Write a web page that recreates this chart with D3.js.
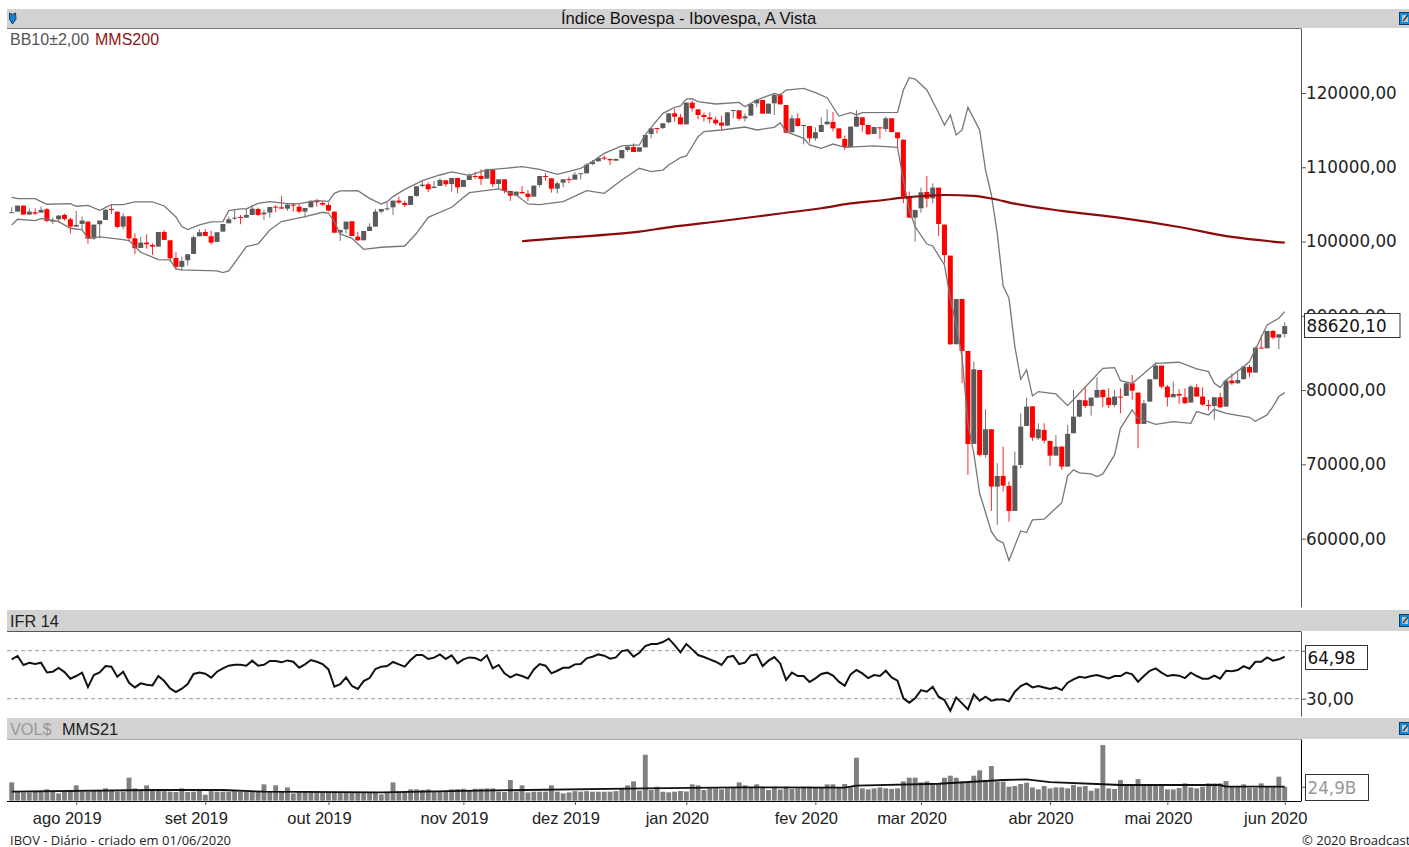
<!DOCTYPE html>
<html>
<head>
<meta charset="utf-8">
<script src="https://cdn.jsdelivr.net/npm/d3@7"></script>
<style>
  body { margin: 0; background: #fff; }
  text { font-family: "Liberation Sans", Arial, sans-serif; }
  .tick-label text, .box-label { font-family: "DejaVu Sans", sans-serif; font-size: 16.8px; }
  .footer { font-family: "Open Sans", sans-serif; font-size: 13px; }
</style>
</head>
<body>
<div id="chart"></div>
<script>
const opens = [
  103920,104030,104840,103630,103940,103900,104350,102690,103000,103580,
  103000,102010,102370,102690,100400,102330,102910,104390,104030,102010,
  103400,100440,99140,99860,99540,99320,101290,100170,97790,96580,
  97480,98330,100710,101290,100710,99950,101340,102460,103090,103310,
  103220,103580,104390,103670,103900,104700,104610,104430,104970,104700,
  104030,104610,105510,105200,104930,104030,101200,101650,102730,100660,
  100170,101420,102010,104030,104390,104610,105510,105190,104920,106140,
  107480,107710,107210,107480,108250,107750,108560,107350,108290,108830,
  108830,108470,109640,107750,108380,106810,106180,106670,106450,106050,
  107620,108830,108510,107120,107930,108420,108330,109140,109190,110440,
  110800,111300,111120,110890,111210,112330,112730,112100,112690,114480,
  115290,115290,116050,117260,116730,115780,118700,117800,117040,116720,
  116410,116010,115600,117580,117670,116590,116950,118610,119060,117220,
  118610,119730,118380,114710,116590,115560,115560,113900,114750,115780,
  116100,115240,113810,112730,115470,116730,115690,114480,115380,115150,
  116590,114710,113720,106050,103220,104480,106670,105820,107260,102280,
  98100,86170,92270,85270,72750,82710,71270,74730,67010,68440,
  67100,63730,69930,75180,77820,73520,74640,73160,71180,72400,
  69700,74190,76430,78630,77870,78990,80020,78990,78000,79130,
  79220,80920,79660,75450,78450,81460,83300,80470,79040,79480,
  79040,78320,80380,79130,78000,77870,79040,77780,81280,80920,
  81460,83120,82360,85720,85630,87960,87070,87560
];
const highs = [
  104610,104840,104840,104480,104480,104700,104480,103220,103580,103760,
  103220,104120,103360,102690,102280,102820,104300,105020,104030,103810,
  103400,101110,100670,100980,99770,101290,101560,100170,98560,97970,
  98290,100800,101650,101650,101470,101250,102370,103360,104390,103580,
  104390,104930,104570,104260,104660,104930,106140,105150,105060,105060,
  104520,105600,105740,105470,105240,104030,101560,102680,102730,101330,
  101420,102460,104390,104390,105240,105510,106050,105510,106140,107440,
  108290,107980,108160,108510,108250,108560,108560,108290,109190,109410,
  109730,109810,109640,108380,108380,106810,106720,107480,106940,107530,
  108830,109190,108510,108070,108380,108740,109320,109190,110530,110980,
  111430,111610,111120,111210,112330,113000,113220,112690,114350,115240,
  115290,115920,117260,117850,117170,118700,118970,117800,117350,117400,
  116810,116950,117400,117710,117670,117260,118520,119150,119060,118560,
  119950,119950,118380,117040,117260,115690,115560,115380,116730,117800,
  117440,115240,114260,115470,117710,116730,115690,115420,115380,116810,
  116590,114710,113720,106720,104250,107260,108830,107840,107260,102280,
  98100,92270,92270,85270,83840,82710,77420,74730,70150,72390,
  67680,71720,76880,78990,77820,75530,75540,73160,73960,72400,
  75310,80020,78680,80560,78990,81730,80110,80250,80020,80250,
  81150,82040,79660,78680,81460,83750,83300,80700,81150,80160,
  80250,80700,80790,80380,78680,79040,79660,81460,82270,82490,
  83250,83390,85860,87430,87960,88100,87520,89130
];
const lows = [
  103920,104030,103630,103630,103580,103900,102600,102330,102600,102820,
  101070,102010,101560,99720,100220,100440,102910,103720,101790,101650,
  99990,98330,99140,99050,98200,99320,100220,97300,96180,96040,
  96760,98330,100710,100760,99590,99950,101340,102460,102910,102330,
  103220,103580,103450,102910,103220,103940,104430,104120,104030,103810,
  103220,104610,104700,104790,104030,101110,100080,101110,100750,100080,
  100170,101420,102010,103800,104160,103580,105060,104610,104920,106050,
  107300,106670,107170,107480,107390,106720,106490,107350,108290,108420,
  107620,108470,107300,107030,106490,105460,106180,106490,105460,106050,
  107300,108160,106580,106490,107300,107840,108330,108380,109190,110310,
  110800,110980,110310,110850,111210,112100,112060,112100,112690,113900,
  114570,115150,115920,116140,115780,115780,117490,116460,116140,115920,
  115650,115020,115600,116590,116280,116140,116950,118070,117220,117220,
  117040,118470,114570,114710,115470,113090,113310,113580,114750,115780,
  114840,113810,112330,112730,115470,114800,114350,114480,113810,114800,
  114660,112690,105150,103220,99990,103890,104610,105150,100750,97070,
  86080,86170,80920,68580,72750,71050,70910,63730,61850,66340,
  62300,63730,69480,75180,73160,73290,72840,69790,71180,69260,
  69700,74190,76340,77560,76570,78990,77690,77560,77690,76880,
  79220,78680,72170,75450,78450,81460,80250,77780,79040,78140,
  78140,78320,79130,77870,77240,75990,77560,77780,80700,80830,
  81460,81730,82360,85630,85630,86840,85500,87070
];
const closes = [
  103960,104840,103630,104030,103760,104260,102770,102910,103490,103040,
  102010,102240,102820,100400,102280,102820,104300,104260,101970,103400,
  100440,99100,99860,99630,99320,101290,100220,97750,96580,97390,
  98290,100580,101250,100760,99860,101250,102370,103000,103220,103220,
  103580,104430,103580,103900,104660,104570,104430,104970,104840,104030,
  104520,105470,105290,104970,104170,101200,101560,102680,100750,100170,
  101420,102010,104030,104390,104470,105510,105240,104920,106140,107440,
  107660,107030,107390,108290,107710,108560,107300,108290,108920,108690,
  108420,109730,107710,108380,106810,106180,106720,106490,106000,107530,
  108830,108690,107120,107840,108380,108330,109010,109190,110350,110760,
  111250,111160,110940,111120,112330,112780,112060,112690,114350,115240,
  115200,115920,117260,116810,115780,118700,117940,117040,116770,116460,
  115920,115600,117400,117710,116540,116860,118520,119060,117220,118560,
  119730,118470,114660,116590,115560,115690,113900,114710,115690,116140,
  115240,113900,112730,115470,116810,115690,114440,115420,115240,116590,
  114750,113900,106050,103220,104250,106630,105780,107260,102370,98190,
  86170,92270,85270,72750,82800,71270,74730,67010,68440,67140,
  63730,69840,75090,77780,73610,74730,73200,71180,72400,69700,
  74100,76430,78680,77870,78990,80020,79040,78000,79130,79040,
  80920,79930,75450,78230,81460,83300,80470,79040,79480,79260,
  78230,80470,79130,78050,77870,79040,77690,81280,80920,81370,
  83160,82360,85720,85630,87960,87070,87520,88620
];

// bollinger bands, read at the corners of each line: candle number, then value
const upperIdx = [0,1,4,5,6,10,11,13,15,17,19,21,24,26,28,29,30,32,34,36,37,39,40,42,44,47,49,52,54,55,56,59,61,63,64,65,67,70,73,75,78,81,87,90,93,97,99,101,104,107,108,109,111,113,114,115,116,117,120,124,125,127,130,131,132,135,137,139,141,143,144,145,151,152,153,154,156,158,159,160,161,162,163,165,166,167,168,169,170,171,172,173,174,175,178,180,182,186,188,189,191,192,195,199,202,204,205,206,207,210,211,214,216,217];
const upperVals = [105960,105780,105780,105380,105020,105110,104750,104880,104210,104970,104970,105330,105330,104790,103310,102010,101610,102240,102640,102690,104170,104390,104390,105150,105380,105110,105110,105510,105420,106490,106810,106850,105820,105060,105370,106050,107030,108200,108960,109370,108920,109640,110080,109730,109050,109860,110760,111880,112870,113000,114350,115380,117260,118070,118250,119190,119240,118830,118520,118740,118160,119060,119950,119730,120400,120630,120050,119370,116900,117350,117040,117350,117400,120400,122060,121880,120400,117350,115690,117040,114350,115020,118070,115020,109640,106270,101110,94020,92360,85860,81460,82710,79210,79800,79485,77910,79580,82940,83030,81280,80920,81550,83610,83750,82850,82490,80920,80380,81370,83160,83840,88770,89670,90570];
const lowerIdx = [0,1,4,5,6,8,10,12,13,15,19,20,22,25,27,28,29,35,36,37,40,42,44,46,50,53,54,55,56,58,60,63,67,69,71,75,78,83,86,88,90,94,98,101,104,107,109,111,112,114,115,117,118,121,125,127,130,131,132,135,136,138,140,142,147,151,152,153,154,156,157,159,160,161,162,163,164,165,167,168,169,170,172,173,174,176,179,180,181,182,184,185,186,188,189,191,192,195,198,201,202,204,205,207,211,212,214,215,216,217];
const lowerVals = [102240,103000,102820,103090,103000,102690,101790,101560,100440,100620,100260,100130,98560,97570,97530,96310,96180,96040,95820,96040,99320,99680,101560,102690,103360,103940,103810,102690,101030,100440,98960,99230,99400,101110,103260,104610,106580,107080,106270,105060,104970,105370,106850,106490,108290,109860,109410,109630,110310,111290,111520,114120,114800,115020,115420,115020,115380,116010,114800,113900,113000,112550,113130,112690,112870,112690,108290,104250,102010,99670,99400,96850,92360,88770,84510,75530,71500,66110,60950,59830,59470,57050,61040,60820,62530,62620,64850,68450,69260,68850,68720,68350,68720,71280,74860,77330,76210,75400,75760,75530,77110,76660,77420,76880,76340,75800,76660,77780,79130,79660];

// MMS200 only starts once 200 sessions are there
const smaIdx = [87,95,107,112,121,131,138,143,148,152,159,164,167,171,179,189,199,208,217];
const smaVals = [100040,100550,101330,101920,102770,103780,104480,105130,105530,105910,106270,106140,105800,105100,104130,103180,101960,100620,99850];

const ifr = [
  62.8,65.6,58.1,60,58.9,60,51.9,52.5,55.6,52.2,46.7,48.9,51.7,39.7,49.7,51.9,57.2,56.7,48.3,52.5,
  43.3,39.4,42.8,41.7,41.1,48.9,44.7,38.6,35.6,38.3,42.2,50.6,51.9,50.8,47.5,52.5,55.3,57.5,58.3,58.3,
  57.5,61.7,57.5,58.3,61.4,61.4,60.3,61.9,60.8,55.8,58.6,62.2,60.8,58.9,54.4,40,42.2,47.8,40.6,38.1,
  44.7,47.2,54.7,56.7,57.2,60.6,58.6,56.7,62.2,66.4,66.4,63.1,64.2,66.9,63.1,66.1,59.4,62.8,64.4,63.9,
  61.7,66.1,55.3,58.1,51.1,47.8,50.3,48.9,46.9,54.4,58.9,57.5,51.1,53.3,55.8,55.8,58.6,58.9,63.6,65,
  66.9,65.8,63.3,64.4,69.7,70.6,65,68.3,73.9,75.6,75.6,77.2,80,74.7,68.6,75.6,71.1,66.4,64.7,62.8,
  60.8,58.1,64.7,65.6,58.9,60,66.1,66.9,57.2,61.7,64.7,59.4,45.6,51.7,48.9,48.9,43.9,46.9,50.6,51.7,
  49.2,44.2,40.8,50.3,53.9,51.1,47.2,49.7,48.9,53.3,47.8,45,30.3,26.7,30.3,37.2,35.8,40,31.7,28.9,
  20,31.1,26.1,21.1,33.6,28.3,31.7,28.3,29.4,29.4,27.8,35.8,40.6,42.8,39.4,40.6,39.4,38.1,39.4,37.2,
  43.3,46.1,48.3,47.5,48.9,49.7,48.3,46.9,48.9,48.9,51.7,50.3,44.2,48.9,53.3,55.3,51.7,48.9,49.7,49.2,
  47.2,51.7,48.9,46.7,46.7,49.2,46.7,53.3,52.8,53.9,57.2,55,60.8,60.8,64.4,61.7,62.8,64.98
];

// volume in billions
const volumes = [
  32.6,16,14.8,14.8,16,17.8,20.2,16,13,16,19,27.3,16,16,17.8,19,21.9,18,16,16,
  40.9,21.9,19,27.3,19,18,17,16,15.4,21.9,15.4,16,18,10.7,17,16,16,16,17,16,
  16,16,17,29.1,16,27.3,16,23.7,13,16,15.4,16,15.4,14.8,15.4,15.4,15.4,14.8,15.4,15.4,
  14.8,15.4,15.4,11.3,15.4,32.6,16,15.4,20.2,20.2,19,20.2,16,15.4,17.8,20.2,20.8,21.3,19,21.3,
  21.3,21.9,21.9,16,15.4,36.8,16,27.3,14.8,16,16,16,27.3,16,13,14.8,17,16,17,16,
  16,16,16,17,21.3,27.3,34.4,18,81.8,19,24.9,16,14.8,16,17.2,16.5,29.1,27.3,19,22,
  22,20.2,22,23,32.6,27.3,23,29.1,24.9,19,24.9,20,24.9,21,22,24.9,24.9,23,23,29.1,
  29.1,23.5,29.7,24,76.5,21.9,20.2,22,23.7,22,21,21.9,34.4,40.9,40.9,32.6,34.4,30.8,30.8,40.9,
  44.5,40.9,33.8,33.8,44.5,54,36.8,61.7,33.8,33.8,24.9,26.1,29.7,32,23.7,20.2,26.1,21.9,23.7,23.7,
  21.9,27.9,24.9,26.1,17.8,21.9,99,21.9,20.8,36.8,26.1,26.1,38.5,26.1,26.1,26.1,26.1,20.2,20.2,22.5,
  30.8,23.7,21.9,24.9,30.8,30.8,30.8,35,26.1,26.1,29.1,22.5,22.5,30.8,24.9,24.9,42.7,24.9
];
const volSmaIdx = [0,24,36,43,63,77,108,124,142,144,158,169,173,177,185,189,206,207,217];
const volSmaVals = [16,19,19,16,14.8,17.5,22,23.7,23.1,26.7,30.2,36.8,38,33.2,29.7,27.9,27.9,24.9,24.9];

const priceTicks = [60000,70000,80000,90000,100000,110000,120000];
const ifrLevels = [30,70];
const monthLabels = ['ago 2019','set 2019','out 2019','nov 2019','dez 2019','jan 2020','fev 2020','mar 2020','abr 2020','mai 2020','jun 2020'];
const monthIdx = [11,33,54,77,96,115,137,155,177,197,217];

const width = 1409, height = 847;
const axisX = 1301, barLeft = 7;
const gray = '#5a5a5a', red = '#ff0000', header = '#d2d2d2';

const svg = d3.select('#chart').append('svg')
    .attr('width', width)
    .attr('height', height)
    .style('display', 'block');

const x = d3.scaleLinear().domain([0, 217]).range([11.7, 1284.7]);
const yPrice = d3.scaleLinear().domain([50800, 128750]).range([607, 28]);
const yIfr = d3.scaleLinear().domain([15.6, 86.4]).range([716, 631]);
const yVol = d3.scaleLinear().domain([0, 109.8]).range([800.7, 739]);

const pct = v => d3.format('.2f')(v).replace('.', ',');

/* header bars */
const bars = [
    { top: 9, bottom: 28, line: '#777' },
    { top: 610, bottom: 631, line: '#555' },
    { top: 718, bottom: 739, line: '#aaa' }
];
bars.forEach(function (b) {
    svg.append('rect').attr('x', barLeft).attr('y', b.top)
        .attr('width', width - barLeft).attr('height', b.bottom - b.top).attr('fill', header);
    svg.append('line').attr('x1', barLeft).attr('x2', axisX).attr('y1', b.bottom + 0.5).attr('y2', b.bottom + 0.5)
        .attr('stroke', b.line);
    // the small export button on the right
    const g = svg.append('g').attr('transform', 'translate(1399,' + (b.top + (b === bars[0] ? 3 : 4)) + ')');
    g.append('rect').attr('x', 0.5).attr('y', 0.5).attr('width', 11).attr('height', 12)
        .attr('fill', '#0a8ee0').attr('stroke', '#123a5a');
    g.append('rect').attr('x', 3).attr('y', 3).attr('width', 6).attr('height', 7).attr('fill', '#b8c4cc');
    g.append('path').attr('d', 'M4 9 L9 3').attr('stroke', '#333').attr('stroke-width', 1.2);
});
svg.append('path').attr('d', 'M9.5 13 L12.5 14.5 L15.5 13 L16 19 L12.5 24 L9.5 19 Z').attr('fill', '#0a86d8').attr('stroke', '#335');

svg.append('text').attr('x', 688.5).attr('y', 24).attr('text-anchor', 'middle').attr('font-size', 16.6).attr('fill', '#111')
    .text('Índice Bovespa - Ibovespa, A Vista');
const legend = svg.append('text').attr('x', 10).attr('y', 44.5).attr('font-size', 16);
legend.append('tspan').attr('fill', '#555').text('BB10±2,00');
legend.append('tspan').attr('x', 95).attr('fill', '#8f1515').text('MMS200');
svg.append('text').attr('x', 10).attr('y', 626.5).attr('font-size', 16.3).attr('fill', '#222').text('IFR 14');
const volLegend = svg.append('text').attr('x', 10).attr('y', 735).attr('font-size', 16.3);
volLegend.append('tspan').attr('fill', '#999').text('VOL$');
volLegend.append('tspan').attr('x', 62).attr('fill', '#222').text('MMS21');

/* candles */
const idx = d3.range(opens.length);
const candles = svg.append('g').selectAll('g').data(idx).enter().append('g')
    .attr('stroke', i => closes[i] >= opens[i] ? gray : red)
    .attr('fill', i => closes[i] >= opens[i] ? gray : red);
candles.append('line')
    .attr('x1', i => x(i)).attr('x2', i => x(i))
    .attr('y1', i => yPrice(highs[i])).attr('y2', i => yPrice(lows[i]))
    .attr('stroke-width', 1).attr('stroke-opacity', 0.85);
candles.append('rect')
    .attr('x', i => x(i) - 2.5).attr('width', 5)
    .attr('y', i => yPrice(Math.max(opens[i], closes[i])))
    .attr('height', i => Math.max(1, Math.abs(yPrice(opens[i]) - yPrice(closes[i]))))
    .attr('stroke', 'none');

/* bands and average */
const priceLine = d3.line().x(d => x(d[0])).y(d => yPrice(d[1]));
[[upperIdx, upperVals], [lowerIdx, lowerVals]].forEach(function (band) {
    svg.append('path').attr('d', priceLine(d3.zip(band[0], band[1])))
        .attr('fill', 'none').attr('stroke', '#777').attr('stroke-width', 1.3);
});
svg.append('path').attr('d', priceLine.curve(d3.curveMonotoneX)(d3.zip(smaIdx, smaVals)))
    .attr('fill', 'none').attr('stroke', '#8b0a0a').attr('stroke-width', 2.2);

/* price axis */
svg.append('g').attr('class', 'tick-label')
    .attr('transform', 'translate(' + axisX + ',0)')
    .call(d3.axisRight(yPrice).tickValues(priceTicks).tickSize(5).tickSizeOuter(0).tickFormat(pct));

/* IFR */
svg.append('g').selectAll('line').data(ifrLevels).enter().append('line')
    .attr('x1', barLeft).attr('x2', axisX)
    .attr('y1', d => yIfr(d)).attr('y2', d => yIfr(d))
    .attr('stroke', '#999').attr('stroke-dasharray', '4,3');
svg.append('path').attr('d', d3.line().x((d, i) => x(i)).y(d => yIfr(d))(ifr))
    .attr('fill', 'none').attr('stroke', '#111').attr('stroke-width', 2);
// 70 is hidden behind the value box in the original, only its tick shows
svg.append('g').attr('class', 'tick-label')
    .attr('transform', 'translate(' + axisX + ',0)')
    .call(d3.axisRight(yIfr).tickValues(ifrLevels).tickSize(5).tickSizeOuter(0)
        .tickFormat(d => d === 30 ? pct(d) : ''));

/* volume */
svg.append('g').selectAll('rect').data(volumes).enter().append('rect')
    .attr('x', (d, i) => x(i) - 2.45).attr('width', 4.9)
    .attr('y', d => yVol(d)).attr('height', d => yVol(0) - yVol(d))
    .attr('fill', '#808080');
svg.append('path').attr('d', d3.line().x(d => x(d[0])).y(d => yVol(d[1]))(d3.zip(volSmaIdx, volSmaVals)))
    .attr('fill', 'none').attr('stroke', '#111').attr('stroke-width', 1.8);
svg.append('g')
    .attr('transform', 'translate(' + axisX + ',0)')
    .call(d3.axisRight(yVol).tickValues([volumes[volumes.length - 1]]).tickSize(5).tickSizeOuter(0).tickFormat(''));

/* month axis */
const monthAxis = svg.append('g')
    .attr('transform', 'translate(0,801)')
    .call(d3.axisBottom(x).tickValues(monthIdx).tickSize(4).tickSizeOuter(0).tickPadding(7)
        .tickFormat((d, i) => monthLabels[i]));
monthAxis.select('.domain').attr('d', 'M' + barLeft + ',0.5H' + axisX);
monthAxis.selectAll('text').attr('dx', -9.5)
    .attr('font-size', 16.5).attr('fill', '#222');

svg.selectAll('.tick-label .domain, .tick line').attr('stroke', '#555');
svg.selectAll('.tick-label text').attr('x', 5).attr('fill', '#222');

/* last value boxes */
function valueBox(x0, y0, w, h, label, color) {
    svg.append('rect').attr('x', x0 + 0.5).attr('y', y0 + 0.5).attr('width', w).attr('height', h)
        .attr('fill', '#fff').attr('stroke', '#333');
    svg.append('text').attr('class', 'box-label').attr('x', x0 + 2.5).attr('y', y0 + h / 2 + 6.5)
        .attr('fill', color).text(label);
}
valueBox(1304, 313, 95.5, 24, '88620,10', '#111');
valueBox(1305, 645, 62, 24, pct(ifr[ifr.length - 1]), '#111');
valueBox(1305, 774, 63, 26, '24,9B', '#999');

/* footer */
svg.append('text').attr('class', 'footer').attr('x', 10).attr('y', 845)
    .attr('fill', '#222').text('IBOV - Diário - criado em 01/06/2020');
svg.append('text').attr('class', 'footer').attr('x', 1302).attr('y', 845)
    .attr('fill', '#222').text('© 2020 Broadcast');
</script>
</body>
</html>
